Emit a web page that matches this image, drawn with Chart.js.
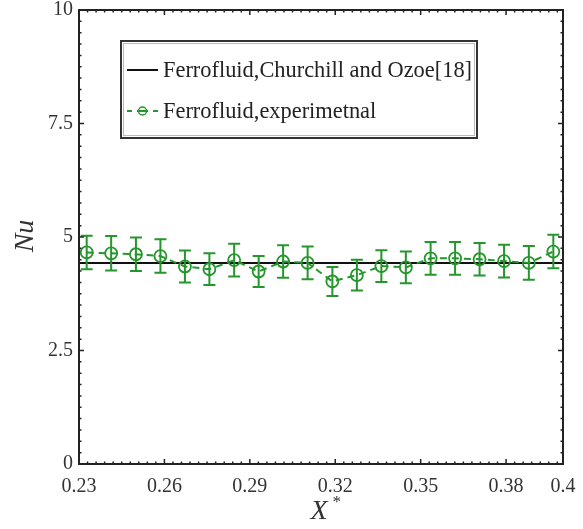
<!DOCTYPE html>
<html>
<head>
<meta charset="utf-8">
<script src="https://cdn.jsdelivr.net/npm/chart.js@4"></script>
<style>
  html, body { margin: 0; padding: 0; background: #fff; }
  #wrap { width: 583px; height: 529px; }
</style>
</head>
<body>
<div id="wrap"><canvas id="nuChart" width="583" height="529"></canvas></div>
<script>
// measured positions X* and Nusselt numbers
const xPos = [0.2327, 0.2413, 0.2500, 0.2586, 0.2672, 0.2758, 0.2845, 0.2931, 0.3017, 0.3103,
              0.3190, 0.3276, 0.3362, 0.3448, 0.3535, 0.3621, 0.3707, 0.3793, 0.3880, 0.3966];
const nuExp = [4.66, 4.64, 4.62, 4.58, 4.35, 4.29, 4.49, 4.24, 4.46, 4.43,
               4.02, 4.16, 4.36, 4.33, 4.53, 4.53, 4.51, 4.47, 4.43, 4.68];
const nuErr = [0.37, 0.38, 0.37, 0.37, 0.35, 0.35, 0.36, 0.34, 0.36, 0.36,
               0.32, 0.34, 0.35, 0.35, 0.36, 0.36, 0.36, 0.36, 0.37, 0.37];
// correlation value (Churchill and Ozoe)
const corrX = [0.23, 0.4];
const corrNu = [4.43, 4.43];

const xTicks = [0.23, 0.26, 0.29, 0.32, 0.35, 0.38, 0.4];
const yTicks = [0, 2.5, 5, 7.5, 10];

const legendLabels = ['Ferrofluid,Churchill and Ozoe[18]', 'Ferrofluid,experimetnal'];

const green = 'rgb(36,150,44)';
const serif = '"Liberation Serif", "DejaVu Serif", serif';

// error bars for the experimental series
const errorBars = {
  id: 'errorBars',
  afterDatasetsDraw(chart) {
    const { ctx, scales: { x, y } } = chart;
    ctx.save();
    ctx.strokeStyle = green;
    ctx.lineWidth = 2;
    xPos.forEach((xv, i) => {
      const px = x.getPixelForValue(xv);
      const top = y.getPixelForValue(nuExp[i] + nuErr[i]);
      const bot = y.getPixelForValue(nuExp[i] - nuErr[i]);
      ctx.beginPath();
      ctx.moveTo(px, top); ctx.lineTo(px, bot);
      ctx.moveTo(px - 6, top); ctx.lineTo(px + 6, top);
      ctx.moveTo(px - 6, bot); ctx.lineTo(px + 6, bot);
      ctx.stroke();
    });
    ctx.restore();
  }
};

// box frame with inward major and minor ticks on all four sides
const frame = {
  id: 'frame',
  afterDraw(chart) {
    const { ctx, chartArea: a, scales: { x, y } } = chart;
    ctx.save();
    ctx.strokeStyle = '#222';
    ctx.lineWidth = 1.5;
    for (let k = 0; k <= 56; k++) {
      const v = 0.23 + k * 0.003;
      if (v > 0.4001) break;
      const px = x.getPixelForValue(v);
      const len = (k % 10 === 0) ? 5 : 2.5;
      ctx.beginPath();
      ctx.moveTo(px, a.bottom); ctx.lineTo(px, a.bottom - len);
      ctx.moveTo(px, a.top); ctx.lineTo(px, a.top + len);
      ctx.stroke();
    }
    for (let k = 0; k <= 40; k++) {
      const py = y.getPixelForValue(k * 0.25);
      const len = (k % 10 === 0) ? 5 : 2.5;
      ctx.beginPath();
      ctx.moveTo(a.left, py); ctx.lineTo(a.left + len, py);
      ctx.moveTo(a.right, py); ctx.lineTo(a.right - len, py);
      ctx.stroke();
    }
    ctx.lineWidth = 2;
    ctx.strokeRect(a.left, a.top, a.right - a.left, a.bottom - a.top);

    // axis titles
    ctx.fillStyle = '#333';
    ctx.font = 'italic 28px ' + serif;
    ctx.textAlign = 'center';
    ctx.textBaseline = 'middle';
    ctx.save();
    ctx.translate(26, 236);
    ctx.rotate(-Math.PI / 2);
    ctx.fillText('Nu', 0, 0);
    ctx.restore();
    ctx.fillText('X', 319, 512);
    ctx.font = 'italic 17px ' + serif;
    ctx.fillText('*', 336, 503);

    // legend box
    const bx = 121, by = 41, bw = 356, bh = 97;
    ctx.fillStyle = '#fff';
    ctx.fillRect(bx, by, bw, bh);
    ctx.strokeStyle = '#333';
    ctx.lineWidth = 2;
    ctx.strokeRect(bx, by, bw, bh);
    ctx.strokeStyle = '#bbb';
    ctx.lineWidth = 1;
    ctx.strokeRect(bx + 2.5, by + 2.5, bw - 5, bh - 5);

    ctx.strokeStyle = '#111';
    ctx.lineWidth = 2;
    ctx.beginPath();
    ctx.moveTo(127, 70); ctx.lineTo(158, 70);
    ctx.stroke();

    ctx.strokeStyle = green;
    ctx.lineWidth = 2;
    ctx.beginPath();
    ctx.moveTo(127, 111); ctx.lineTo(132, 111);
    ctx.moveTo(137, 111); ctx.lineTo(148, 111);
    ctx.moveTo(153, 111); ctx.lineTo(158, 111);
    ctx.stroke();
    ctx.lineWidth = 1.5;
    ctx.beginPath();
    ctx.arc(142.5, 111, 4, 0, Math.PI * 2);
    ctx.stroke();

    ctx.fillStyle = '#222';
    ctx.font = '22.4px ' + serif;
    ctx.textAlign = 'left';
    ctx.fillText(legendLabels[0], 163, 71);
    ctx.fillText(legendLabels[1], 163, 112);
    ctx.restore();
  }
};

new Chart(document.getElementById('nuChart'), {
  type: 'line',
  data: {
    datasets: [
      {
        label: legendLabels[0],
        data: corrX.map((v, i) => ({ x: v, y: corrNu[i] })),
        borderColor: '#111',
        borderWidth: 2,
        pointRadius: 0,
        order: 2
      },
      {
        label: legendLabels[1],
        data: xPos.map((v, i) => ({ x: v, y: nuExp[i] })),
        borderColor: green,
        borderWidth: 2,
        borderDash: [7, 5],
        pointStyle: 'circle',
        pointRadius: 6,
        pointBorderWidth: 1.8,
        pointBorderColor: green,
        pointBackgroundColor: 'rgba(0,0,0,0)',
        order: 1
      }
    ]
  },
  options: {
    responsive: false,
    animation: false,
    layout: { padding: { top: 10, right: 20, left: 0, bottom: 0 } },
    plugins: { legend: { display: false }, tooltip: { enabled: false } },
    scales: {
      x: {
        type: 'linear',
        min: 0.23,
        max: 0.4,
        afterBuildTicks: s => { s.ticks = xTicks.map(v => ({ value: v })); },
        afterFit: s => { s.height = 65; s.paddingLeft = 0; s.paddingRight = 0; },
        grid: { display: false, drawTicks: false },
        border: { display: false },
        ticks: {
          padding: 11,
          color: '#333',
          font: { family: serif, size: 20 },
          maxRotation: 0,
          callback: v => String(v)
        }
      },
      y: {
        min: 0,
        max: 10,
        afterBuildTicks: s => { s.ticks = yTicks.map(v => ({ value: v })); },
        afterFit: s => { s.width = 79; s.paddingTop = 0; s.paddingBottom = 0; },
        grid: { display: false, drawTicks: false },
        border: { display: false },
        ticks: {
          padding: 6,
          color: '#333',
          font: { family: serif, size: 20 },
          callback: v => String(v)
        }
      }
    }
  },
  plugins: [errorBars, frame]
});
</script>
</body>
</html>
